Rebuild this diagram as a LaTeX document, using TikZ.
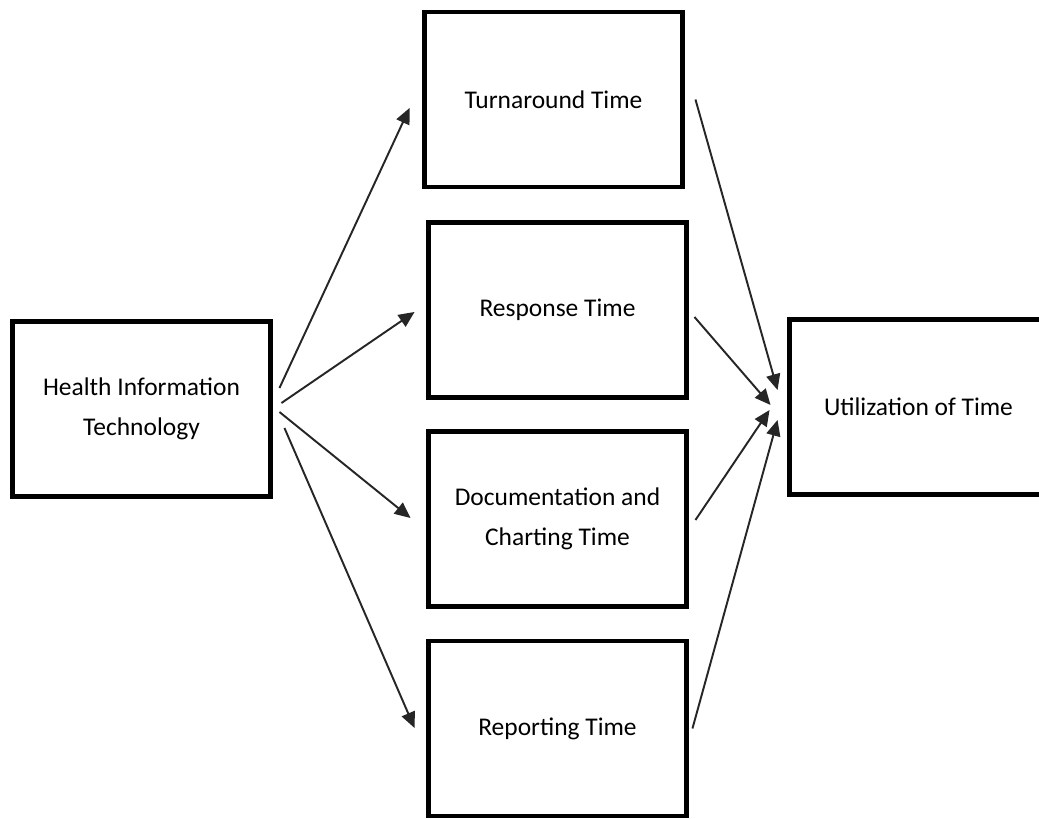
\documentclass[tikz,border=0pt]{standalone}
\usepackage{fontspec}
\setmainfont{Carlito}
\usetikzlibrary{arrows.meta,positioning}

\begin{document}
\begin{tikzpicture}
			\tikzset{>={Triangle[length=9pt,width=8pt]},
				box/.style={draw, line width=2.8pt, inner sep=0pt, minimum width=5.16cm, minimum height=3.5cm, align=center, font=\fontsize{14.5}{23}\selectfont},
				link/.style={->, line width=1.1pt, black!85}}
			\useasboundingbox (0, 0) rectangle (20.78, -16.38);
			\begin{scope}
				\clip (0, 0) rectangle (20.78, -16.38);
				\node[box] (hit) at (2.83, -8.18) {Health Information\\Technology};
				\node[box] (turn) at (11.07, -1.99) {Turnaround Time};
				\node[box] (resp) at (11.15, -6.20) {Response Time};
				\node[box] (doc) at (11.15, -10.38) {Documentation and\\Charting Time};
				\node[box] (rep) at (11.15, -14.57) {Reporting Time};
				\node[box] (util) at (18.37, -8.14) {Utilization of Time};
			\end{scope}

			\draw[link] ([shift={(0.13, 0.42)}]hit.east) -- ([shift={(-0.25, -0.17)}]turn.west);
			\draw[link] ([shift={(0.17, 0.12)}]hit.east) -- ([shift={(-0.23, -0.04)}]resp.west);
			\draw[link] ([shift={(0.13, -0.06)}]hit.east) -- ([shift={(-0.31, 0.02)}]doc.west);
			\draw[link] ([shift={(0.23, -0.38)}]hit.east) -- ([shift={(-0.23, 0.01)}]rep.west);

			\draw[link] ([shift={(0.21, 0)}]turn.east) -- ([shift={(-0.19, 0.34)}]util.west);
			\draw[link] ([shift={(0.11, -0.14)}]resp.east) -- ([shift={(-0.33, 0.04)}]util.west);
			\draw[link] ([shift={(0.13, -0.02)}]doc.east) -- ([shift={(-0.35, -0.06)}]util.west);
			\draw[link] ([shift={(0.07, 0)}]rep.east) -- ([shift={(-0.19, -0.26)}]util.west);
		\end{tikzpicture}
\end{document}
